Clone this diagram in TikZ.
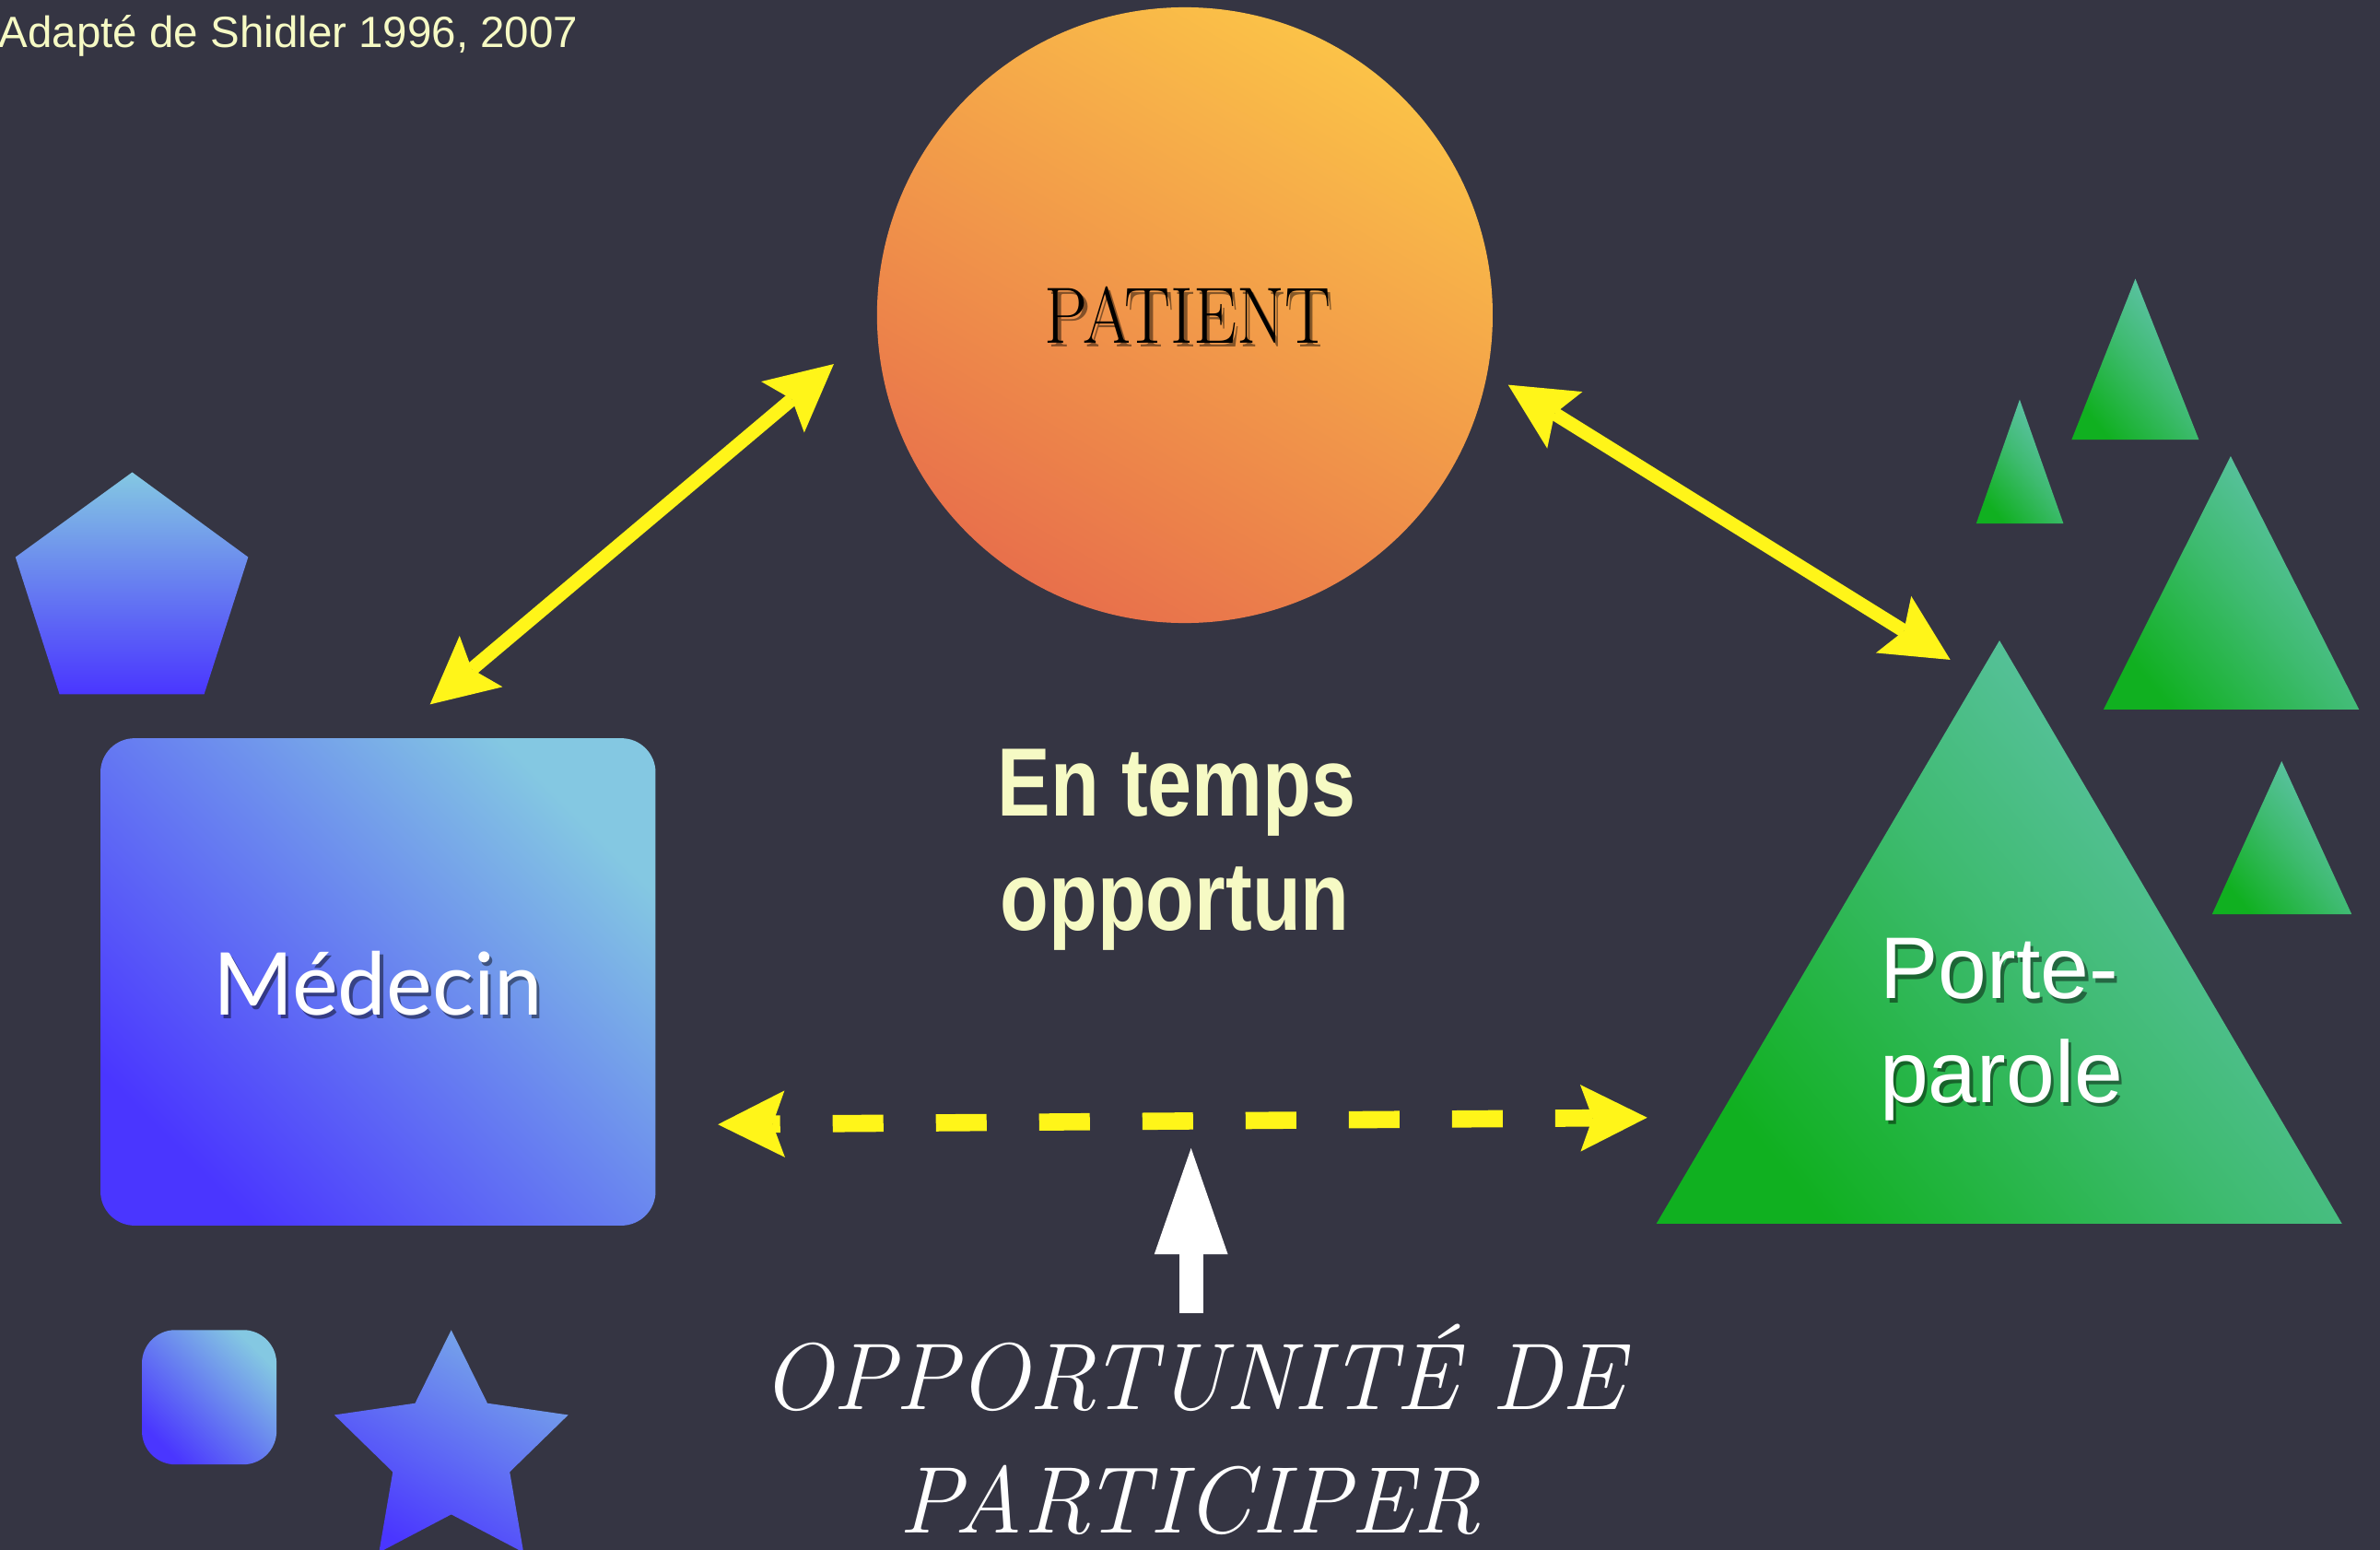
\documentclass[tikz,border=0pt]{standalone}
\usepackage{fontspec}
\usetikzlibrary{arrows.meta}
\newfontfamily\helv{Liberation Sans}
\newfontfamily\helvcond[FakeStretch=0.82]{Liberation Sans}
\newfontfamily\lato{Lato}
\definecolor{ardoise}{RGB}{53,53,67}
\definecolor{citron}{RGB}{255,245,25}
\definecolor{creme}{RGB}{246,250,196}
\definecolor{bleuclair}{RGB}{132,200,226}
\definecolor{bleu}{RGB}{74,54,255}
\definecolor{turquoise}{RGB}{100,196,178}
\definecolor{vert}{RGB}{16,176,32}
\definecolor{orclair}{RGB}{251,194,72}
\definecolor{orfonce}{RGB}{232,112,75}

\begin{document}
\begin{tikzpicture}[x=0.2mm, y=-0.2mm, line join=round,
	>={Stealth[length=8.8mm,width=8.8mm,inset=1.6mm,line width=0pt]},
	bleue/.style={top color=bleuclair, bottom color=bleu, shading angle=-45},
	verte/.style={top color=turquoise, bottom color=vert, middle color=turquoise!55!vert, shading angle=-50},
	fleche/.style={citron, line width=1.8mm, <->},
	ombre/.style={text=black, text opacity=0.45}]
	\useasboundingbox (0,0) rectangle (1568,1021);
	\fill[ardoise] (0,0) rectangle (1568,1021);
	\node[anchor=base west, inner sep=0, text=creme, font=\helv\fontsize{16.4}{20}\selectfont] (source) at (-1,31.4) {Adapté de Shidler 1996, 2007};
	% patient
	\shade[top color=orclair, bottom color=orfonce, shading angle=-30] (780.6,207.6) circle (202.8);
	\node[ombre, anchor=base, font=\fontsize{30}{36}\selectfont] at (784.4,228.8) {\scalebox{0.86}[1]{PATIENT}};
	\node[anchor=base, font=\fontsize{30}{36}\selectfont] (patient) at (782.4,226.3) {\scalebox{0.86}[1]{PATIENT}};
	% medecin et formes bleues
	\shade[top color=bleuclair, bottom color=bleu] (87.1,311.1) -- (163.5,367) -- (134.5,457.3) -- (39.2,457.3) -- (10.2,367) -- cycle;
	\shade[bleue, rounded corners=4.5mm] (66.2,486.3) rectangle (431.9,807.3);
	\shade[bleue, rounded corners=4.4mm] (93.5,876.1) rectangle (182.2,964.7);
	\begin{scope}[shift={(297.3,957.1)}]
		\shade[top color=bleuclair!80!bleu, bottom color=bleu, shading angle=-30] (-90:81) -- (-54:40.5) -- (-18:81) -- (18:40.5) -- (54:81) -- (90:40.5) -- (126:81) -- (162:40.5) -- (198:81) -- (234:40.5) -- cycle;
	\end{scope}
	\node[ombre, anchor=base, font=\lato\fontsize{32.5}{38}\selectfont] at (250.9,671.3) {Médecin};
	\node[anchor=base, text=white, font=\lato\fontsize{32.5}{38}\selectfont] (medecin) at (248.9,668.8) {Médecin};
	% porte-parole et triangles
	\shade[verte] (1317.3,421.9) -- (1542.9,806) -- (1091.3,806) -- cycle;
	\shade[verte] (1406.8,183.6) -- (1448.7,289.7) -- (1364.8,289.7) -- cycle;
	\shade[verte] (1330.6,263.2) -- (1359.4,344.8) -- (1302,344.8) -- cycle;
	\shade[verte] (1469.6,300.5) -- (1554.2,467.4) -- (1385.8,467.4) -- cycle;
	\shade[verte] (1503.2,501.4) -- (1549.3,602.2) -- (1457.4,602.2) -- cycle;
	\node[ombre, anchor=base, font=\helv\fontsize{32.8}{39}\selectfont] at (1319.2,660.5) {Porte-};
	\node[ombre, anchor=base, font=\helv\fontsize{32.8}{39}\selectfont] at (1320.5,728.9) {parole};
	\node[anchor=base, text=white, font=\helv\fontsize{32.8}{39}\selectfont] (porte) at (1317.2,658) {Porte-};
	\node[anchor=base, text=white, font=\helv\fontsize{32.8}{39}\selectfont] (parole) at (1318.5,726.4) {parole};
	% textes du milieu
	\node[anchor=base, text=creme, font=\helvcond\bfseries\fontsize{36.4}{42}\selectfont] (entemps) at (775.3,537.8) {En temps};
	\node[anchor=base, text=creme, font=\helvcond\bfseries\fontsize{36.4}{42}\selectfont] (opportun) at (774,613) {opportun};
	\node[anchor=base, text=white, font=\itshape\fontsize{35.5}{46}\selectfont] (opp) at (785.8,928.7) {OPPORTUNITÉ DE};
	\node[anchor=base, text=white, font=\itshape\fontsize{35.5}{46}\selectfont] (participer) at (783.6,1010) {PARTICIPER};
	% fleches
	\coordinate (medecin-haut) at (283.3,464);
	\coordinate (patient-gauche) at (549.3,239.8);
	\coordinate (patient-droite) at (993.6,253.5);
	\coordinate (porte-haut) at (1284.9,434.6);
	\coordinate (medecin-droite) at (473,740.7);
	\coordinate (porte-gauche) at (1085.2,736.2);
	\coordinate (opp-pied) at (784.7,865);
	\coordinate (opp-pointe) at (784.7,756.3);
	\draw[fleche] (medecin-haut) -- (patient-gauche);
	\draw[fleche] (patient-droite) -- (porte-haut);
	\draw[fleche, line width=2.26mm, dash pattern=on 6.68mm off 6.92mm, dash phase=5.68mm] (medecin-droite) -- (porte-gauche);
	\draw[white, line width=3.12mm, -{Triangle[length=14mm,width=9.7mm,line width=0pt]}] (opp-pied) -- (opp-pointe);
\end{tikzpicture}
\end{document}
